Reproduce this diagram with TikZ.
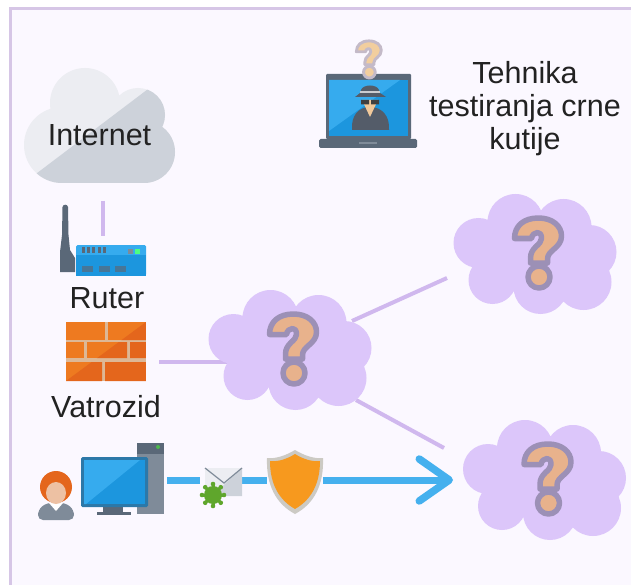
\documentclass[tikz,border=0pt]{standalone}
\usepackage{fontspec}
\setmainfont{Liberation Sans}
\usetikzlibrary{calc,arrows.meta}
\definecolor{pagebg}{HTML}{FBF8FF}
\definecolor{edgec}{HTML}{D6C6E6}
\definecolor{cloudp}{HTML}{DCC6FA}
\definecolor{linkp}{HTML}{D0B8EE}
\definecolor{qout}{HTML}{9C90B6}
\definecolor{qin}{HTML}{E8B28C}
\definecolor{qoutl}{HTML}{C4BAC8}
\definecolor{qinl}{HTML}{F2CE9E}
\definecolor{skyb}{HTML}{45B0EE}
\definecolor{scr}{HTML}{1C96DE}
\definecolor{scrl}{HTML}{36ABEE}
\definecolor{frm}{HTML}{2C78A8}
\definecolor{slate}{HTML}{5A6878}
\definecolor{slatel}{HTML}{7F8B99}
\definecolor{spy}{HTML}{545C69}
\definecolor{brick}{HTML}{EE7A20}
\definecolor{brickd}{HTML}{E4661C}
\definecolor{mortar}{HTML}{DDB896}
\definecolor{cl}{HTML}{ECEDF2}
\definecolor{cd}{HTML}{CDD2DA}
\definecolor{txt}{HTML}{222222}
\definecolor{shieldo}{HTML}{F7991E}
\definecolor{shieldg}{HTML}{CCCAC4}
\definecolor{virusg}{HTML}{5FA62C}
\tikzset{
  box/.style={inner sep=0pt,outer sep=0pt,draw=none,fill=none},
  label text/.style={inner sep=0pt,text=txt,font=\fontsize{30.5}{33}\selectfont,align=center},
  plink/.style={draw=linkp,line width=4pt},
  blink/.style={draw=skyb,line width=7pt},
}
\newcommand{\qglyph}[5]{% x y scale outer inner
  \begin{scope}[shift={(#1,#2)},scale=#3,line join=round]
    \draw[draw=#4,fill=#5,line width=#3*5.5pt] (-21,-15.5) .. controls (-21,-28) and (-12,-36) .. (3,-36) .. controls (17,-36) and (26,-28) .. (26,-18) .. controls (26,-6) and (12,-4) .. (12,5) -- (12,9) -- (-5,9) -- (-5,4) .. controls (-5,-7) and (6,-9) .. (6,-15.5) .. controls (6,-19.5) and (4.5,-21.5) .. (2,-21.5) .. controls (-1,-21.5) and (-3.5,-19) .. (-4,-15.5) -- cycle;
    \draw[draw=#4,fill=#5,line width=#3*5.5pt] (3.5,23) circle (11pt);
  \end{scope}}
\newcommand{\qcloud}[2]{%
  \begin{scope}[shift={(#1,#2)}]
    \fill[cloudp] (-57,-11) circle (25pt) (-20,-32) circle (28pt) (28,-27) circle (28pt)
      (54,-2) circle (27pt) (48,28) circle (28pt) (5,33) circle (27pt) (-43,26) circle (24pt)
      (0,0) ellipse [x radius=52pt,y radius=38pt];
  \end{scope}
  \qglyph{#1}{#2}{1}{qout}{qin}}
\begin{document}
\begin{tikzpicture}[x=1pt,y=-1pt]
\useasboundingbox (0,0) rectangle (631,585);
\fill[white] (0,0) rectangle (631,585);
\fill[pagebg] (10,9) rectangle (631,585);
\draw[edgec,line width=3pt] (10,585) -- (10,9) -- (631,9);

% named places
\node[box,minimum width=151pt,minimum height=115pt] (internet) at (99.5,125.5) {};
\node[box,minimum width=86pt,minimum height=31pt] (router) at (103,260.5) {};
\node[box,minimum width=80pt,minimum height=59pt] (firewall) at (106,351.5) {};
\node[box,minimum width=165pt,minimum height=119pt] (q1) at (290.5,350) {};
\node[box,minimum width=165pt,minimum height=118pt] (q2) at (535.5,254) {};
\node[box,minimum width=164pt,minimum height=119pt] (q3) at (545,480) {};
\node[box,minimum width=84pt,minimum height=68pt] (computer) at (122,480) {};
\node[box,minimum width=37pt,minimum height=26pt] (mail) at (223.5,480) {};
\node[box,minimum width=56pt,minimum height=60pt] (shield) at (295,480) {};
\node[box,minimum width=37pt,minimum height=47pt] (user) at (56,495.5) {};
\node[box,minimum width=98pt,minimum height=74pt] (laptop) at (368,111) {};

% connectors
\draw[plink,shorten <=18pt,shorten >=9pt] (router.north |- internet.south) -- (router.north);
\draw[plink] ($(firewall.east)+(13,10.5)$) -- ($(q1)+(-60,12)$);
\draw[plink] ($(q1)+(61.5,-29)$) -- ($(q2)+(-88.5,24)$);
\draw[plink] ($(q1)+(65.5,50)$) -- ($(q3)+(-101,-32)$);
\draw[blink,shorten <=3pt,shorten >=5pt] (computer.east) -- (mail.west);
\draw[blink] (mail.east) -- (shield.west);
\draw[blink,line join=round,-{Straight Barb[length=30pt,width=42pt,line width=7.5pt,round]}] (shield.east) -- ($(q3)+(-92,0)$);

% internet cloud
\begin{scope}
  \clip (85,103) circle (35pt) (138,115) circle (27pt) (144,152) circle (31pt) (62,145) circle (38pt)
        (105,140) circle (40pt) (62,150) rectangle (144,183);
  \fill[cl] (0,50) rectangle (200,200);
  \fill[cd] (20,186) -- (160,80) -- (200,80) -- (200,200) -- (20,200) -- cycle;
\end{scope}
\node[label text] (internetlabel) at (internet.center |- 0,135) {Internet};

% router
\fill[slate] (62.5,207) .. controls (63,204) and (67.5,204) .. (68,207) -- (68.5,235) -- (70,250) -- (75,258) -- (75,272) -- (60,272) -- (60,252) -- (62,235) -- cycle;
\fill[rounded corners=1.5pt,fill=scrl] (76,245) rectangle (146,275.5);
\fill[scr] (76,255) rectangle (146,275.5);
\foreach \k in {0,...,4}{\fill[slate] ({82+\k*5.2},247) rectangle ({85+\k*5.2},253);}
\fill[slatel] (128,249) rectangle (133,253.5);
\fill[green!70!cyan!70!white] (135,249) rectangle (140,253.5);
\foreach \k in {82,99,115}{\fill[slate!70!scr] (\k,266) rectangle ({\k+11},272);}
\node[label text] (routerlabel) at (107,298) {Ruter};

% firewall
\fill[mortar] (firewall.north west) rectangle (firewall.south east);
\begin{scope}
\clip (66,322) rectangle (146,381);
\foreach \a/\b/\c/\d in {66/322/105/340, 108/322/146/340, 66/342/84/358, 87/342/127/358, 130/342/146/358, 66/362/102/381, 105/362/146/381}{
  \fill[brick] (\a,\b) rectangle (\c,\d);
}
\begin{scope}
 \clip (66,322) rectangle (105,340) (108,322) rectangle (146,340) (66,342) rectangle (84,358) (87,342) rectangle (127,358) (130,342) rectangle (146,358) (66,362) rectangle (102,381) (105,362) rectangle (146,381);
 \fill[brickd] (146,322) -- (146,381) -- (66,381) -- cycle;
\end{scope}
\end{scope}
\node[label text] (firewalllabel) at (106,407) {Vatrozid};

% clouds
\qcloud{290.5}{350}
\qcloud{535.5}{254}
\qcloud{545}{480}

% laptop
\fill[slate,rounded corners=1pt] (326,74) rectangle (411,139);
\fill[scr] (329,80) rectangle (408,136);
\fill[scrl] (329,80) -- (400,80) -- (329,131) -- cycle;
\fill[slate,rounded corners=1.5pt] (319,139) rectangle (417,148);
\fill[slatel] (359,142.5) rectangle (377,144);
\fill[spy] (352,130) .. controls (351,116) and (358,107) .. (370,107) .. controls (382,107) and (390,116) .. (389,130) -- cycle;
\fill[qinl!80!qin] (362,100) -- (378,100) -- (370,117) -- cycle;
\fill[spy] (361,90) .. controls (363,84) and (377,84) .. (379,90) -- (380,93) -- (386,97) -- (355,97) -- (360,93) -- cycle;
\fill[black!75] (361,100) rectangle (369,104.5) (371,100) rectangle (379,104.5);
\fill[cl!70!gray] (360,91.5) rectangle (380,93);
\qglyph{367.5}{60}{0.53}{qoutl}{qinl}
\node[label text] (title) at (525,108.5) {Tehnika\\testiranja crne\\kutije};

% user
\fill[slatel,rounded corners=5pt] (38,520) -- (38,510) -- (46,503) -- (66,503) -- (74,510) -- (74,520) -- cycle;
\fill[white] (49,503) -- (63,503) -- (56,511) -- cycle;
\fill[brickd] (56,487) circle (16pt);
\fill[qin!80!white] (56,493) ellipse [x radius=10pt,y radius=11pt];

% computer
\fill[slatel] (137,443) rectangle (164,514);
\fill[slate] (137,443) rectangle (164,454);
\fill[green!60!black!70] (158,447) circle (2pt);
\fill[slate] (103,505) rectangle (123,512);
\fill[slate] (97,512) rectangle (131,515);
\fill[frm,rounded corners=1.5pt] (81,457) rectangle (148,507);
\fill[scr] (84,460) rectangle (145,504);
\fill[scrl] (84,460) -- (140,460) -- (86,504) -- (84,504) -- cycle;

% mail with virus
\fill[cl] (205,468) rectangle (242,496);
\fill[cd] (242,468) -- (242,496) -- (212,496) -- cycle;
\draw[slatel,line width=1.2pt] (205,468) -- (224,483) -- (242,468);
\node[box,minimum size=26pt] (virus) at (213,495) {};
\foreach \a in {0,45,...,315}{
  \draw[virusg,line width=3pt] (virus.center) -- ++(\a:10.5pt);
  \fill[virusg] (virus.center) ++(\a:11pt) circle (2.3pt);
}
\fill[virusg] (virus.center) circle (9pt);

% shield
\fill[shieldg] (295,450) .. controls (305,456) and (315,459) .. (323,458) .. controls (324,485) and (314,504) .. (295,514) .. controls (276,504) and (266,485) .. (267,458) .. controls (275,459) and (285,456) .. (295,450) -- cycle;
\fill[shieldo] (295,454) .. controls (303,459) and (312,462) .. (320,461) .. controls (320,484) and (311,500) .. (295,509) .. controls (279,500) and (270,484) .. (270,461) .. controls (278,462) and (287,459) .. (295,454) -- cycle;
\end{tikzpicture}
\end{document}
